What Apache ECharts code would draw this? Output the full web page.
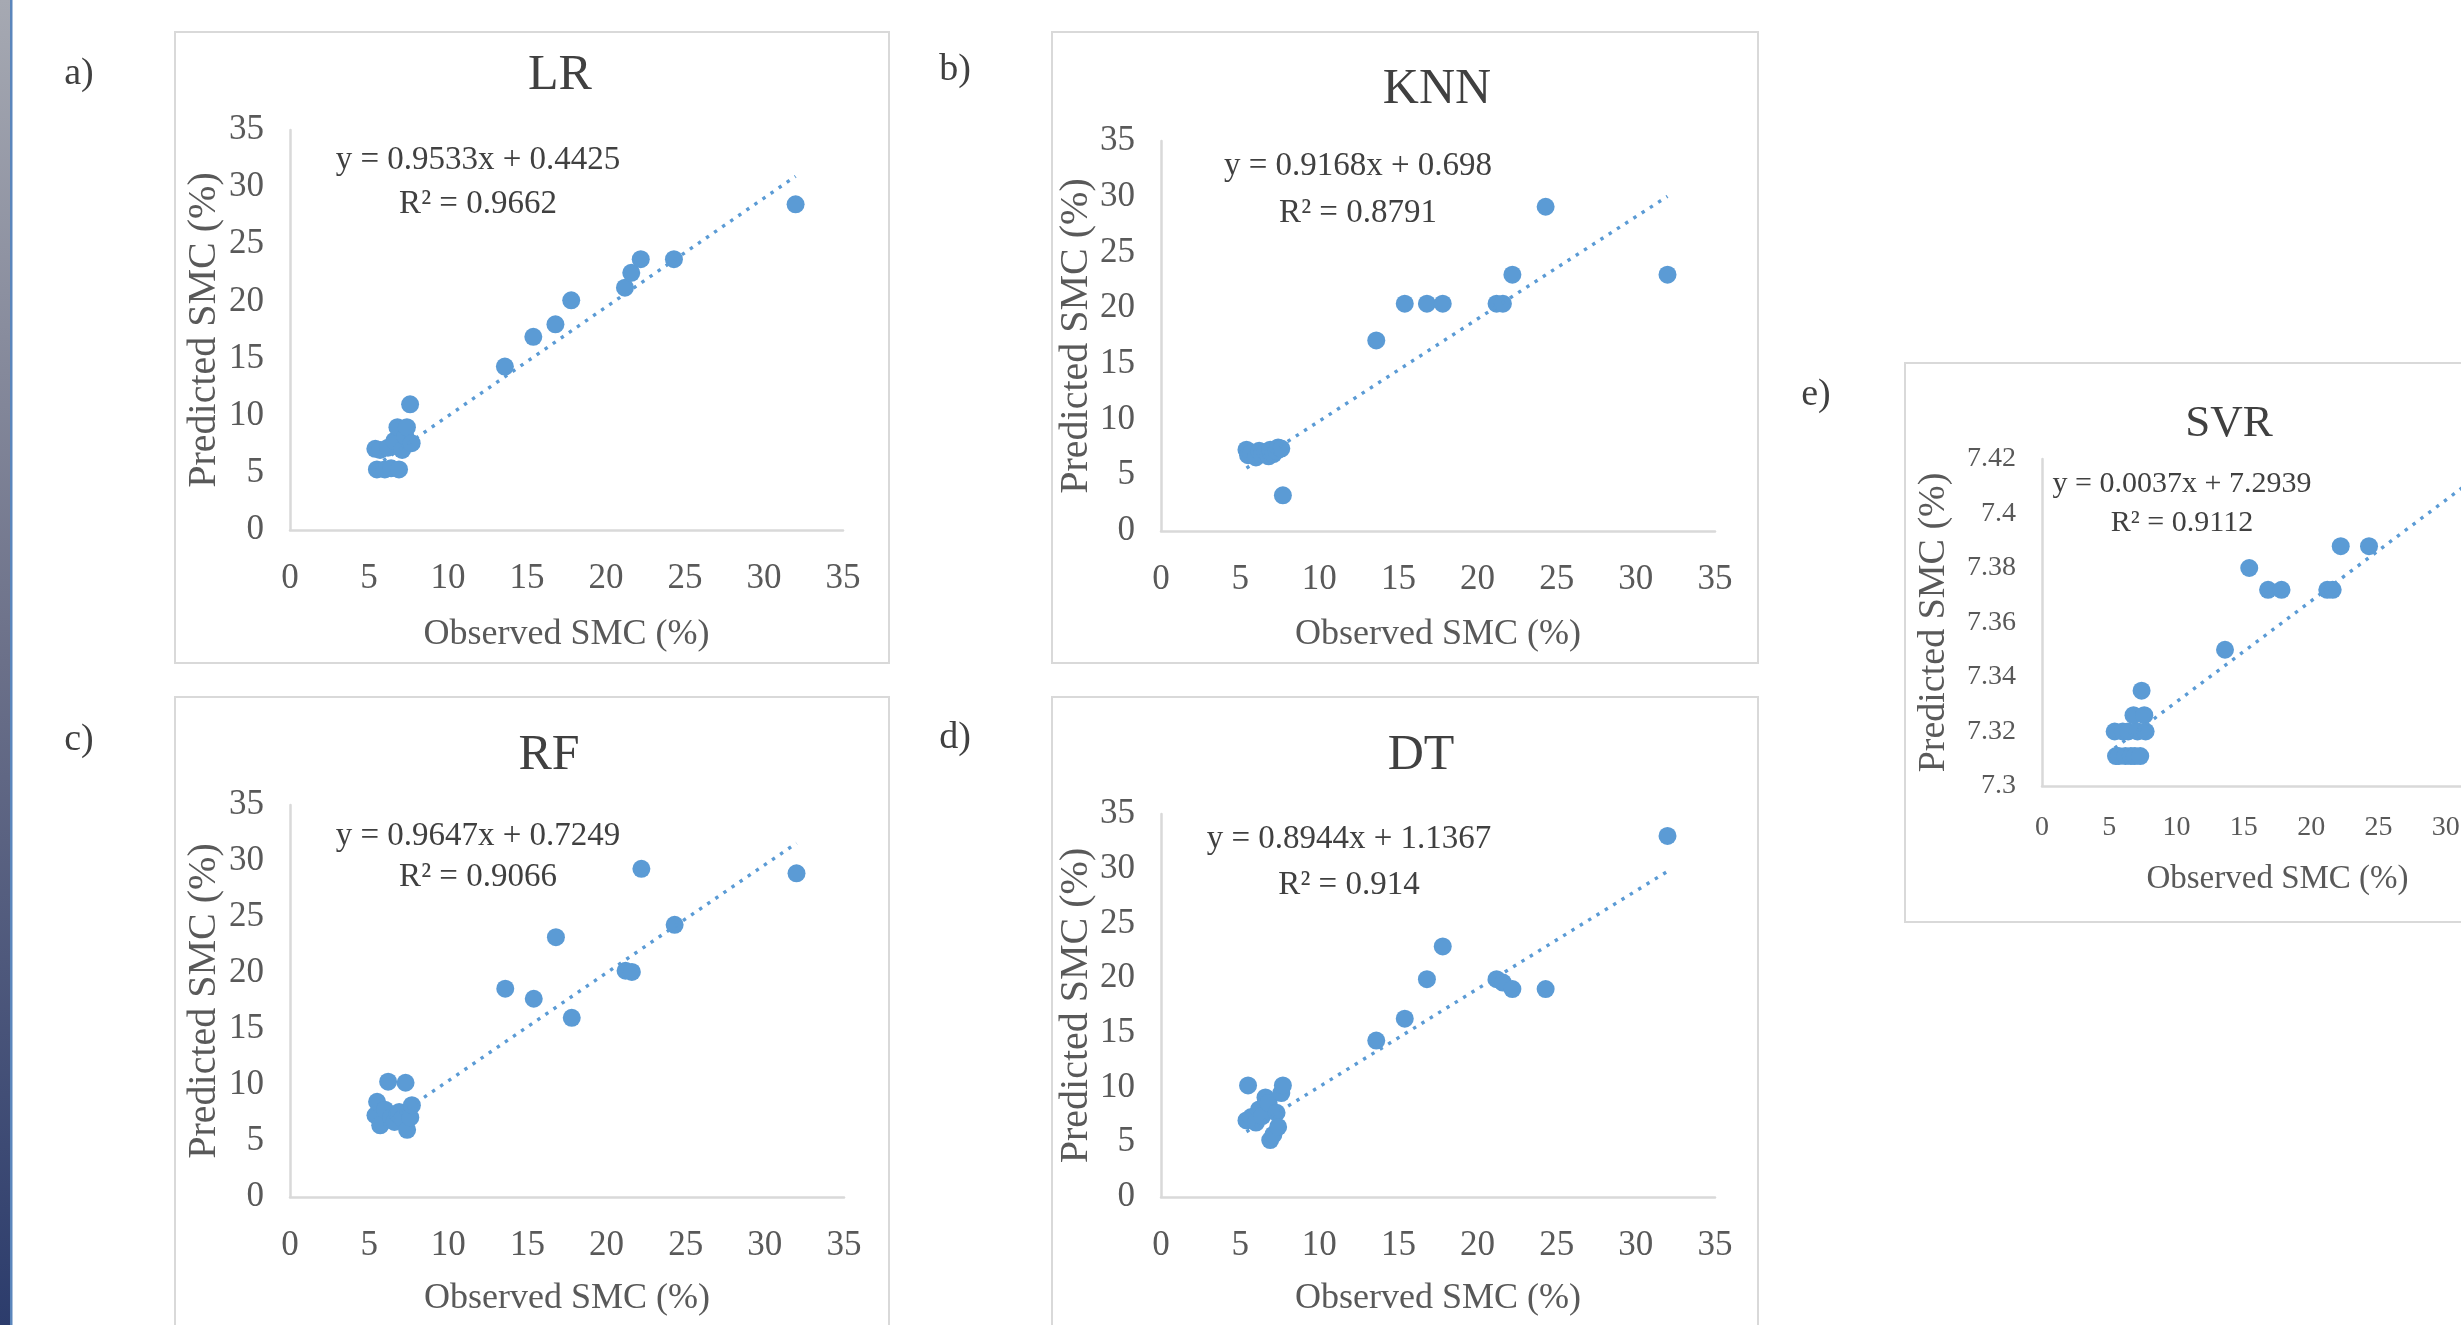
<!DOCTYPE html>
<html>
<head>
<meta charset="utf-8">
<script src="https://cdn.jsdelivr.net/npm/echarts@6/dist/echarts.min.js"></script>
<style>
html,body{margin:0;padding:0;background:#ffffff;}
#chart{width:2461px;height:1325px;}
</style>
</head>
<body>
<div id="chart"></div>
<script>
// ---------- data ----------
const models = ['LR', 'KNN', 'RF', 'DT', 'SVR'];
const panelTags = ['a)', 'b)', 'c)', 'd)', 'e)'];
const xAxisTitle = 'Observed SMC (%)';
const yAxisTitle = 'Predicted SMC (%)';
const observedSMC = [5.4, 5.5, 5.7, 6.0, 6.2, 6.4, 6.6, 6.8, 6.9, 7.1, 7.3, 7.4, 7.6, 7.7, 13.6, 15.4, 16.8, 17.8, 21.2, 21.6, 22.2, 24.3, 32.0];
const predLR  = [7.1, 5.3, 7.0, 5.3, 7.2, 5.4, 7.8, 9.0, 5.3, 7.0, 8.2, 9.0, 11.0, 7.6, 14.3, 16.9, 18.0, 20.1, 21.2, 22.5, 23.7, 23.7, 28.5];
const predKNN = [7.3, 6.8, 7.0, 6.6, 7.2, 6.9, 7.1, 6.7, 7.3, 6.9, 7.2, 7.5, 7.4, 3.2, 17.1, 20.4, 20.4, 20.4, 20.4, 20.4, 23.0, 29.1, 23.0];
const predRF  = [7.3, 8.5, 6.4, 7.8, 10.3, 7.1, 6.7, 7.4, 7.6, 7.0, 10.2, 6.0, 7.1, 8.2, 18.6, 17.7, 23.2, 16.0, 20.2, 20.1, 29.3, 24.3, 28.9];
const predDT  = [7.0, 10.2, 7.3, 6.8, 8.0, 7.4, 9.1, 8.6, 5.2, 5.7, 7.7, 6.4, 9.5, 10.2, 14.3, 16.3, 19.9, 22.9, 19.9, 19.6, 19.0, 19.0, 33.0];
const predSVR = [7.320, 7.311, 7.311, 7.320, 7.311, 7.320, 7.311, 7.326, 7.311, 7.320, 7.311, 7.335, 7.326, 7.320, 7.350, 7.380, 7.372, 7.372, 7.372, 7.372, 7.388, 7.388, 7.405];
const trendSlope = [0.9533, 0.9168, 0.9647, 0.8944, 0.0037];
const trendIntercept = [0.4425, 0.698, 0.7249, 1.1367, 7.2939];
const rSquared = ['0.9662', '0.8791', '0.9066', '0.914', '0.9112'];
const xScale = [0, 35, 5];                 // min, max, interval
const yScales = [[0, 35, 5], [0, 35, 5], [0, 35, 5], [0, 35, 5], [7.3, 7.42, 0.02]];
const predicted = [predLR, predKNN, predRF, predDT, predSVR];

// ---------- layout (pixels) ----------
const layout = [
  {box: [175, 32, 714, 631], grid: [290, 130, 553, 400], tag: [79, 74], title: [560, 76], eq: [478, 160], r2: [478, 204], big: true, xGap: 87, yGap: 66},
  {box: [1052, 32, 706, 631], grid: [1161, 141, 554, 390], tag: [955, 70], title: [1437, 90], eq: [1358, 166], r2: [1358, 213], big: true, xGap: 86, yGap: 63},
  {box: [175, 697, 714, 660], grid: [290, 805, 554, 392], tag: [79, 740], title: [549, 756], eq: [478, 836], r2: [478, 877], big: true, xGap: 84, yGap: 66},
  {box: [1052, 697, 706, 660], grid: [1161, 814, 554, 383], tag: [955, 738], title: [1421, 756], eq: [1349, 839], r2: [1349, 885], big: true, xGap: 84, yGap: 63},
  {box: [1905, 363, 648, 559], grid: [2042, 459, 471, 327], tag: [1816, 395], title: [2229, 424], eq: [2182, 484], r2: [2182, 523], big: false, xGap: 77, yGap: 89}
];

const FONT = '"Liberation Serif", "Times New Roman", serif';
const MARK = '#5B9BD5';
const AXIS = '#D9D9D9';
const TXT = '#595959';
const DARK = '#404040';

const grids = [], xAxes = [], yAxes = [], series = [], titles = [], graphics = [];

// left decorative stripe
graphics.push({type: 'rect', shape: {x: 0, y: 0, width: 10, height: 1325}, silent: true,
  style: {fill: new echarts.graphic.LinearGradient(0, 0, 0, 1, [
    {offset: 0, color: '#A6A9B2'}, {offset: 0.5, color: '#6B7089'}, {offset: 1, color: '#2C3C6C'}])}});
graphics.push({type: 'rect', shape: {x: 10, y: 0, width: 2.5, height: 1325}, silent: true, style: {fill: '#5B86BC'}});

function addText(text, pos, size, color) {
  titles.push({text: text, left: pos[0], top: pos[1], textAlign: 'center', textVerticalAlign: 'middle', padding: 0,
    textStyle: {fontFamily: FONT, fontSize: size, fontWeight: 'normal', color: color}});
}

models.forEach((m, i) => {
  const L = layout[i];
  const tickSize = L.big ? 35 : 28;
  const nameSize = L.big ? 36 : 33;
  const yNameSize = L.big ? 40 : 38;
  const eqSize = L.big ? 33 : 30;
  const titleSize = L.big ? 50 : 45;

  graphics.push({type: 'rect', silent: true, z: -1,
    shape: {x: L.box[0], y: L.box[1], width: L.box[2], height: L.box[3]},
    style: {fill: '#ffffff', stroke: AXIS, lineWidth: 2}});

  grids.push({left: L.grid[0], top: L.grid[1], width: L.grid[2], height: L.grid[3],
    containLabel: false, outerBoundsMode: 'none'});

  xAxes.push({gridIndex: i, type: 'value', min: xScale[0], max: xScale[1], interval: xScale[2],
    name: xAxisTitle, nameLocation: 'middle', nameGap: L.xGap,
    nameTextStyle: {fontFamily: FONT, fontSize: nameSize, color: TXT},
    axisLine: {show: true, onZero: false, lineStyle: {color: AXIS, width: 2.5}},
    axisTick: {show: false}, splitLine: {show: false},
    axisLabel: {fontFamily: FONT, fontSize: tickSize, color: TXT, margin: L.big ? 31 : 28}});

  const ys = yScales[i];
  yAxes.push({gridIndex: i, type: 'value', min: ys[0], max: ys[1], interval: ys[2],
    name: yAxisTitle, nameLocation: 'middle', nameGap: L.yGap,
    nameTextStyle: {fontFamily: FONT, fontSize: yNameSize, color: TXT},
    axisLine: {show: true, onZero: false, lineStyle: {color: AXIS, width: 2.5}},
    axisTick: {show: false}, splitLine: {show: false},
    axisLabel: {fontFamily: FONT, fontSize: tickSize, color: TXT, margin: 26,
      formatter: v => String(parseFloat(Number(v).toFixed(2)))}});

  const pts = observedSMC.map((x, k) => [x, predicted[i][k]]);
  series.push({type: 'scatter', name: m, xAxisIndex: i, yAxisIndex: i, data: pts,
    symbol: 'circle', symbolSize: 18, itemStyle: {color: MARK, opacity: 1}, z: 3, animation: false});

  const xmin = Math.min(...observedSMC), xmax = Math.max(...observedSMC);
  const trend = [xmin, xmax].map(x => [x, trendSlope[i] * x + trendIntercept[i]]);
  series.push({type: 'line', name: m + ' trend', xAxisIndex: i, yAxisIndex: i, data: trend,
    showSymbol: false, symbol: 'none', silent: true, z: 4, animation: false,
    lineStyle: {color: MARK, width: 3.4, type: [3.4, 6.4], cap: 'butt'}});

  addText(m, L.title, titleSize, DARK);
  addText(panelTags[i], L.tag, 38, DARK);
  addText('y = ' + trendSlope[i] + 'x + ' + trendIntercept[i], L.eq, eqSize, DARK);
  addText('R\u00B2 = ' + rSquared[i], L.r2, eqSize, DARK);
});

const chart = echarts.init(document.getElementById('chart'), null, {renderer: 'canvas', width: 2461, height: 1325});
chart.setOption({
  backgroundColor: '#ffffff',
  animation: false,
  title: titles,
  grid: grids,
  xAxis: xAxes,
  yAxis: yAxes,
  series: series,
  graphic: graphics
});
</script>
</body>
</html>
